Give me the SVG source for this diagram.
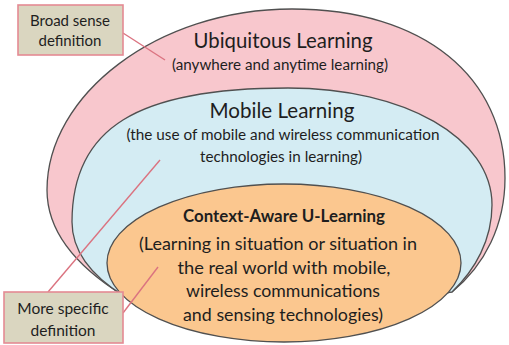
<svg xmlns="http://www.w3.org/2000/svg" width="509" height="345" viewBox="0 0 509 345">
<style>
.ring{stroke:#505050;stroke-width:1.3}
.t{font-family:Lato,"Open Sans","Liberation Sans",sans-serif;fill:#1e1e1e;text-anchor:middle}
.box{fill:#dad6c0;stroke:#e48a93;stroke-width:1.6}
.lead{stroke:#db7380;stroke-width:1.4;fill:none}
</style>
<rect width="509" height="345" fill="#ffffff"/>
<g id="ubiquitous">
<path class="ring" fill="#f8c7cd" d="M292,9 C425,9 505,78 505,178 C505,225 485,265 452,292 L290,322 L124,296 C90,275 47,240 47,190 C47,95 157,9 292,9 Z"/>
<text class="t" x="283" y="48" font-size="21" textLength="179" lengthAdjust="spacingAndGlyphs">Ubiquitous Learning</text>
<text class="t" x="280" y="70" font-size="14.5" textLength="216" lengthAdjust="spacingAndGlyphs">(anywhere and anytime learning)</text>
</g>
<g id="mobile">
<path class="ring" fill="#d4ecf3" d="M288,88 C405,88 492,138 492,205 C492,240 475,270 452,292 L290,322 L124,296 C95,278 72,255 72,222 C72,128 137,88 288,88 Z"/>
<text class="t" x="282" y="118" font-size="21" textLength="145" lengthAdjust="spacingAndGlyphs">Mobile Learning</text>
<text class="t" x="283" y="140" font-size="14.5" textLength="313" lengthAdjust="spacingAndGlyphs">(the use of mobile and wireless communication</text>
<text class="t" x="281" y="162" font-size="14.5" textLength="162" lengthAdjust="spacingAndGlyphs">technologies in learning)</text>
</g>
<g id="context-aware">
<ellipse class="ring" fill="#fbc78f" cx="284" cy="263" rx="177" ry="79"/>
<text class="t" x="284" y="222" font-size="16.5" font-weight="bold" textLength="202" lengthAdjust="spacingAndGlyphs">Context-Aware U-Learning</text>
<text class="t" x="278" y="250" font-size="17.5" textLength="278" lengthAdjust="spacingAndGlyphs">(Learning in situation or situation in</text>
<text class="t" x="284" y="274" font-size="17.5" textLength="213" lengthAdjust="spacingAndGlyphs">the real world with mobile,</text>
<text class="t" x="283" y="297" font-size="17.5" textLength="194" lengthAdjust="spacingAndGlyphs">wireless communications</text>
<text class="t" x="283" y="321" font-size="17.5" textLength="200" lengthAdjust="spacingAndGlyphs">and sensing technologies)</text>
</g>
<g id="connectors">
<line class="lead" x1="123" y1="33" x2="165" y2="60"/>
<line class="lead" x1="48" y1="292" x2="160" y2="160"/>
<line class="lead" x1="123" y1="313" x2="158" y2="267"/>
</g>
<g id="broad-sense">
<rect class="box" x="18" y="5" width="105" height="50"/>
<text class="t" x="70" y="26" font-size="15">Broad sense</text>
<text class="t" x="70" y="46" font-size="15">definition</text>
</g>
<g id="more-specific">
<rect class="box" x="4" y="292" width="119" height="51"/>
<text class="t" x="63" y="314" font-size="15.5">More specific</text>
<text class="t" x="63" y="336" font-size="15.5">definition</text>
</g>
</svg>
